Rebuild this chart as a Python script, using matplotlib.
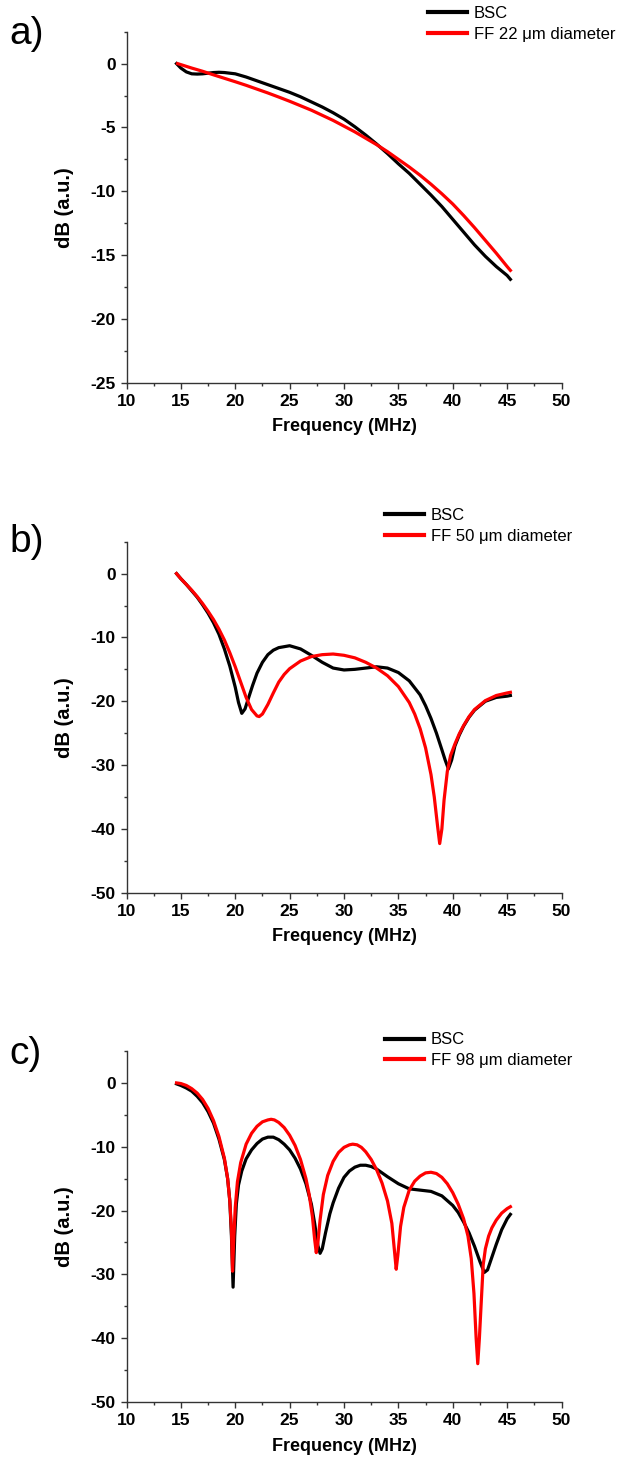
import matplotlib
matplotlib.use('Agg')
import matplotlib.pyplot as plt
from matplotlib.ticker import MultipleLocator

plt.rcParams['font.family'] = ['Liberation Sans', 'DejaVu Sans']
plt.rcParams['axes.unicode_minus'] = False

# ---- panel a: 22 um ----
a_bsc_freq = [14.6, 15.0, 15.5, 16.0, 16.5, 17.0, 17.5, 18.0, 18.5, 19.0, 20, 21, 22, 23, 24, 25,
              26, 27, 28, 29, 30, 31, 32, 33, 34, 35, 36, 37, 38, 39, 40, 41, 42, 43, 44, 45, 45.3]
a_bsc = [0, -0.35, -0.65, -0.8, -0.82, -0.8, -0.75, -0.7, -0.68, -0.7, -0.8, -1.05, -1.35, -1.65,
         -1.95, -2.25, -2.6, -3.0, -3.4, -3.85, -4.35, -4.95, -5.6, -6.3, -7.05, -7.85, -8.6, -9.45,
         -10.3, -11.2, -12.2, -13.2, -14.2, -15.1, -15.9, -16.6, -16.9]
a_ff_freq = [14.7, 15, 16, 17, 18, 19, 20, 21, 22, 23, 24, 25, 26, 27, 28, 29, 30, 31, 32, 33, 34,
             35, 36, 37, 38, 39, 40, 41, 42, 43, 44, 45, 45.3]
a_ff = [0, -0.08, -0.35, -0.6, -0.88, -1.15, -1.42, -1.7, -2.0, -2.3, -2.62, -2.95, -3.3, -3.65,
        -4.05, -4.45, -4.9, -5.35, -5.85, -6.35, -6.9, -7.5, -8.1, -8.75, -9.45, -10.2, -11.0,
        -11.9, -12.85, -13.85, -14.85, -15.9, -16.2]

# ---- panel b: 50 um ----
b_bsc_freq = [14.6, 15, 15.5, 16, 16.5, 17, 17.5, 18, 18.5, 19, 19.5, 20, 20.3, 20.6, 20.9, 21.2,
              21.6, 22, 22.5, 23, 23.5, 24, 25, 26, 27, 28, 29, 30, 31, 32, 33, 34, 35, 36, 37,
              37.5, 38, 38.5, 39, 39.3, 39.6, 39.9, 40.2, 40.6, 41, 41.5, 42, 43, 44, 45, 45.3]
b_bsc = [0, -0.8, -1.7, -2.7, -3.7, -4.9, -6.2, -7.7, -9.5, -11.8, -14.5, -17.8, -20.2, -21.9,
         -21.2, -19.6, -17.5, -15.6, -13.9, -12.7, -12.0, -11.6, -11.3, -11.8, -12.8, -13.9, -14.8,
         -15.1, -15.0, -14.8, -14.6, -14.8, -15.5, -16.8, -19.0, -20.7, -22.7, -25.0, -27.6, -29.2,
         -30.6, -29.2, -27.0, -25.3, -23.9, -22.5, -21.4, -20.0, -19.4, -19.2, -19.1]
b_ff_freq = [14.6, 15, 15.5, 16, 16.5, 17, 17.5, 18, 18.5, 19, 19.5, 20, 20.5, 21, 21.5, 22, 22.2,
             22.5, 23, 23.5, 24, 24.5, 25, 26, 27, 28, 29, 30, 31, 32, 33, 34, 35, 36, 36.5, 37,
             37.5, 38, 38.3, 38.6, 38.8, 39.0, 39.2, 39.5, 39.8, 40.2, 40.6, 41, 41.5, 42, 43, 44,
             45, 45.3]
b_ff = [0, -0.8, -1.7, -2.6, -3.6, -4.7, -5.9, -7.2, -8.7, -10.4, -12.4, -14.6, -17.0, -19.4,
        -21.3, -22.3, -22.4, -22.0, -20.5, -18.7, -17.0, -15.8, -14.9, -13.7, -13.0, -12.7, -12.6,
        -12.8, -13.2, -13.9, -14.8, -16.0, -17.7, -20.2, -22.0, -24.3, -27.3, -31.5, -35.0, -39.5,
        -42.3, -40.0, -35.5, -31.0, -28.5, -26.7, -25.1, -23.8, -22.4, -21.3, -19.9, -19.1, -18.7,
        -18.6]

# ---- panel c: 98 um ----
c_bsc_freq = [14.6, 15, 15.5, 16, 16.5, 17, 17.5, 18, 18.5, 19, 19.3, 19.5, 19.65, 19.8, 19.95,
              20.1, 20.3, 20.6, 21, 21.5, 22, 22.5, 23, 23.5, 24, 24.5, 25, 25.5, 26, 26.5, 27,
              27.3, 27.6, 27.8, 28.0, 28.3, 28.7, 29, 29.5, 30, 30.5, 31, 31.5, 32, 32.5, 33, 34,
              35, 36, 37, 38, 39, 40, 40.5, 41, 41.5, 42, 42.5, 42.9, 43.2, 43.6, 44, 44.5, 45, 45.3]
c_bsc = [-0.15, -0.4, -0.8, -1.3, -2.1, -3.1, -4.5, -6.3, -8.8, -12.0, -15.0, -18.5, -24, -32.0,
         -24, -19.0, -16.0, -13.8, -11.9, -10.5, -9.5, -8.8, -8.5, -8.5, -8.9, -9.6, -10.5, -11.8,
         -13.5, -15.8, -19.0, -22.0, -25.5, -26.7, -26.0, -23.5, -20.5, -18.8, -16.5, -14.8, -13.8,
         -13.2, -12.9, -12.9, -13.1, -13.5, -14.7, -15.8, -16.6, -16.8, -17.0, -17.7, -19.2, -20.3,
         -21.8, -23.5, -25.6, -28.0, -29.7, -29.3, -27.3, -25.3, -23.0, -21.3, -20.6]
c_ff_freq = [14.6, 15, 15.5, 16, 16.5, 17, 17.5, 18, 18.5, 19, 19.3, 19.5, 19.65, 19.75, 19.85,
             20.0, 20.2, 20.5, 21, 21.5, 22, 22.5, 23, 23.3, 23.6, 24, 24.5, 25, 25.5, 26, 26.5,
             26.8, 27.1, 27.3, 27.45, 27.6, 27.8, 28.1, 28.5, 29, 29.5, 30, 30.5, 30.8, 31.2, 31.6,
             32, 32.5, 33, 33.5, 34, 34.4, 34.65, 34.8, 34.95, 35.2, 35.5, 36, 36.5, 37, 37.5, 38,
             38.5, 39, 39.5, 40, 40.5, 41, 41.4, 41.7, 41.95, 42.15, 42.3, 42.45, 42.6, 42.8, 43.0,
             43.3, 43.6, 44, 44.5, 45, 45.3]
c_ff = [0, -0.1, -0.4, -0.9, -1.6, -2.6, -4.0, -5.9, -8.4, -11.8, -15, -18.5, -23, -29.5, -25,
        -19.5, -15.5, -12.5, -9.6, -7.9, -6.8, -6.1, -5.8, -5.7, -5.8, -6.2, -7.0, -8.2, -9.8,
        -12.0, -15.0, -17.5, -21.0, -24.5, -26.6, -25, -21.5, -17.5, -14.5, -12.3, -10.9, -10.1,
        -9.7, -9.6, -9.7, -10.1, -10.8, -12.0, -13.6, -15.7, -18.5, -22, -26.5, -29.2, -27, -22.5,
        -19.5, -16.8, -15.4, -14.6, -14.1, -14.0, -14.2, -14.8, -15.8, -17.2, -19.0, -21.3, -24.0,
        -27.5, -33, -40, -44, -40, -35, -28.5, -26, -24.0, -22.7, -21.5, -20.4, -19.7, -19.4]

panel_letters = ['a)', 'b)', 'c)']
ff_labels = ['FF 22 \u03bcm diameter', 'FF 50 \u03bcm diameter', 'FF 98 \u03bcm diameter']
y_limits = [(-25, 2.5), (-50, 5), (-50, 5)]
y_major = [5, 10, 10]

W, H = 630, 1468
fig = plt.figure(figsize=(W / 100, H / 100), dpi=100)

# pixel positions (top of axes) of each panel
ax_tops = [31.7, 541.7, 1051]
ax_h = 351
ax_left, ax_w = 126.5, 435
letter_base = [43.5, 551.7, 1064]
legend_top = [6, 508, 1032.5]
legend_left = [428, 385, 385]

panels = [(a_bsc_freq, a_bsc, a_ff_freq, a_ff),
          (b_bsc_freq, b_bsc, b_ff_freq, b_ff),
          (c_bsc_freq, c_bsc, c_ff_freq, c_ff)]

for i, (fb, vb, ff, vf) in enumerate(panels):
    ax = fig.add_axes([ax_left / W, 1 - (ax_tops[i] + ax_h) / H, ax_w / W, ax_h / H])
    l1, = ax.plot(fb, vb, color='black', lw=2.3, label='BSC')
    l2, = ax.plot(ff, vf, color='#ff0000', lw=2.3, label=ff_labels[i])
    ax.set_xlim(10, 50)
    ax.set_ylim(*y_limits[i])
    ax.xaxis.set_major_locator(MultipleLocator(5))
    ax.xaxis.set_minor_locator(MultipleLocator(2.5))
    ax.yaxis.set_major_locator(MultipleLocator(y_major[i]))
    ax.yaxis.set_minor_locator(MultipleLocator(y_major[i] / 2))
    for s in ['top', 'right']:
        ax.spines[s].set_visible(False)
    for s in ['left', 'bottom']:
        ax.spines[s].set_color('#333333')
        ax.spines[s].set_linewidth(1.0)
    ax.tick_params(which='major', direction='out', length=4.3, width=1.0, color='#333333',
                   labelsize=12.5, pad=3.5)
    ax.tick_params(which='minor', direction='out', length=2.3, width=1.0, color='#333333')
    for lab in ax.get_xticklabels() + ax.get_yticklabels():
        lab.set_fontweight('bold')
    ax.set_xlabel('Frequency (MHz)', fontsize=13, fontweight='bold', labelpad=7)
    ax.set_ylabel('dB (a.u.)', fontsize=14.5, fontweight='bold', labelpad=12)

    leg = fig.legend(handles=[l1, l2], loc='upper left', frameon=False, fontsize=12,
                     bbox_to_anchor=(legend_left[i] / W, 1 - legend_top[i] / H),
                     handlelength=2.36, handletextpad=0.4, labelspacing=0.34, borderpad=0,
                     borderaxespad=0)
    for h in leg.legend_handles:
        h.set_linewidth(3)
    fig.text(9 / W, 1 - letter_base[i] / H, panel_letters[i], fontsize=28, va='baseline', ha='left')

fig.savefig('out.png', dpi=100)
